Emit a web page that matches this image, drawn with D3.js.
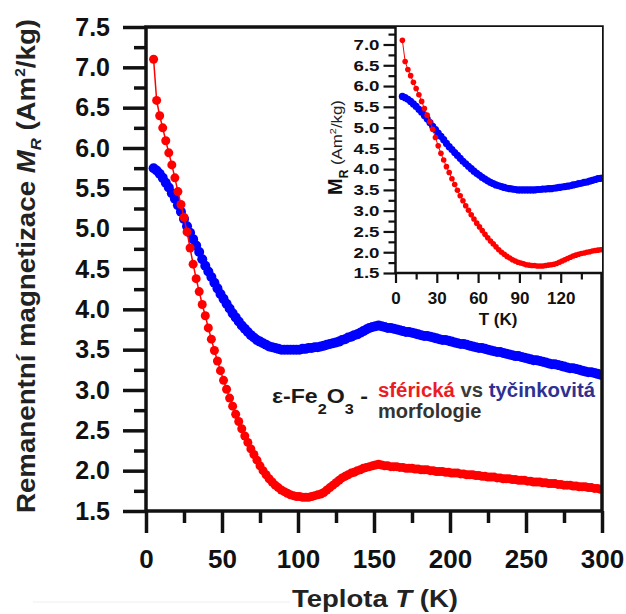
<!DOCTYPE html>
<html>
<head>
<meta charset="utf-8">
<script src="https://cdn.jsdelivr.net/npm/d3@7"></script>
<style>
  html, body { margin: 0; padding: 0; background: #fff; }
  svg { display: block; font-family: "Liberation Sans", Arial, sans-serif; }
</style>
</head>
<body>
<div id="chart"></div>
<script>
// ---------------- DATA ----------------
const temperatures = [
  5,7,9,11,13,15,17,19,21,23,
  25,27,29,31,33,35,37,39,41,43,
  45,47,49,51,53,55,57,59,61,63,
  65,67,69,71,73,75,77,79,81,83,
  85,87,89,91,93,95,97,99,101,103,
  105,107,109,111,113,115,117,119,121,123,
  125,127,129,131,133,135,137,139,141,143,
  145,147,149,151,153,155,157,159,161,163,
  165,167,169,171,173,175,177,179,181,183,
  185,187,189,191,193,195,197,199,201,203,
  205,207,209,211,213,215,217,219,221,223,
  225,227,229,231,233,235,237,239,241,243,
  245,247,249,251,253,255,257,259,261,263,
  265,267,269,271,273,275,277,279,281,283,
  285,287,289,291,293,295,297,299
];
// spherical morphology (red)
const magSpherical = [
  7.10,6.59,6.40,6.25,6.09,5.94,5.79,5.63,5.46,5.30,
  5.14,4.96,4.76,4.56,4.38,4.22,4.06,3.92,3.77,3.63,
  3.49,3.36,3.24,3.12,3.01,2.90,2.80,2.70,2.61,2.52,
  2.43,2.35,2.27,2.20,2.13,2.06,2.00,1.95,1.90,1.86,
  1.82,1.79,1.76,1.74,1.72,1.70,1.69,1.68,1.68,1.67,
  1.67,1.67,1.68,1.69,1.70,1.71,1.73,1.76,1.79,1.82,
  1.85,1.88,1.91,1.93,1.95,1.97,1.98,2.00,2.01,2.03,
  2.04,2.05,2.06,2.07,2.08,2.07,2.06,2.06,2.05,2.05,
  2.05,2.04,2.04,2.03,2.03,2.03,2.02,2.02,2.01,2.01,
  2.01,2.00,2.00,1.99,1.99,1.99,1.98,1.98,1.97,1.97,
  1.97,1.96,1.96,1.95,1.95,1.95,1.94,1.94,1.93,1.93,
  1.92,1.92,1.92,1.91,1.91,1.90,1.90,1.90,1.89,1.89,
  1.88,1.88,1.88,1.87,1.87,1.86,1.86,1.86,1.85,1.85,
  1.84,1.84,1.84,1.83,1.83,1.82,1.82,1.82,1.81,1.81,
  1.80,1.80,1.80,1.79,1.79,1.78,1.78,1.77
];
// rod-like morphology (blue)
const magRod = [
  5.75,5.72,5.68,5.63,5.57,5.51,5.44,5.37,5.29,5.21,
  5.12,5.03,4.95,4.87,4.79,4.71,4.62,4.54,4.47,4.40,
  4.33,4.26,4.19,4.13,4.07,4.01,3.95,3.90,3.85,3.80,
  3.76,3.72,3.68,3.65,3.62,3.60,3.58,3.56,3.54,3.53,
  3.52,3.51,3.50,3.50,3.50,3.50,3.50,3.50,3.50,3.51,
  3.51,3.52,3.52,3.53,3.53,3.54,3.55,3.56,3.57,3.58,
  3.59,3.60,3.62,3.63,3.65,3.66,3.68,3.69,3.71,3.73,
  3.75,3.77,3.78,3.79,3.80,3.79,3.78,3.77,3.77,3.76,
  3.75,3.74,3.73,3.72,3.72,3.71,3.70,3.69,3.68,3.67,
  3.67,3.66,3.65,3.64,3.63,3.62,3.62,3.61,3.60,3.59,
  3.58,3.57,3.57,3.56,3.55,3.54,3.53,3.52,3.52,3.51,
  3.50,3.49,3.48,3.47,3.47,3.46,3.45,3.44,3.43,3.42,
  3.42,3.41,3.40,3.39,3.38,3.37,3.37,3.36,3.35,3.34,
  3.33,3.32,3.32,3.31,3.30,3.29,3.28,3.27,3.27,3.26,
  3.25,3.24,3.23,3.22,3.22,3.21,3.20,3.19
];

const mainXTicks = [0,50,100,150,200,250,300];
const mainXMinor = [25,75,125,175,225,275];
const mainYTicks = [1.5,2.0,2.5,3.0,3.5,4.0,4.5,5.0,5.5,6.0,6.5,7.0,7.5];
const mainYMinor = [1.75,2.25,2.75,3.25,3.75,4.25,4.75,5.25,5.75,6.25,6.75,7.25];
const insetXTicks = [0,30,60,90,120];
const insetXMinor = [15,45,75,105,135];
const insetYTicks = [1.5,2.0,2.5,3.0,3.5,4.0,4.5,5.0,5.5,6.0,6.5,7.0];
const insetYMinor = [1.75,2.25,2.75,3.25,3.75,4.25,4.75,5.25,5.75,6.25,6.75,7.25];

const n = Math.min(temperatures.length, magSpherical.length, magRod.length);
const red = d3.range(n).map(i => ({t: temperatures[i], m: magSpherical[i]}));
const blue = d3.range(n).map(i => ({t: temperatures[i], m: magRod[i]}));

// ---------------- CHART ----------------
const W = 626, H = 614;
const svg = d3.select("#chart").append("svg").attr("width", W).attr("height", H);
const ink = "#111";

const x = d3.scaleLinear().domain([0, 300]).range([146, 602]);
const y = d3.scaleLinear().domain([1.5, 7.5]).range([511, 27]);

const defs = svg.append("defs");
defs.append("clipPath").attr("id", "clipMain").append("rect")
  .attr("x", x(0)).attr("y", y(7.5)).attr("width", x(300) - x(0)).attr("height", y(1.5) - y(7.5));

// faint artifact line
svg.append("line").attr("x1", 33).attr("x2", 290).attr("y1", 602).attr("y2", 602)
  .attr("stroke", "#efefef").attr("stroke-width", 1);

// main data
const gData = svg.append("g").attr("clip-path", "url(#clipMain)");
gData.selectAll("circle.b").data(blue).join("circle").attr("class", "b")
  .attr("cx", d => x(d.t)).attr("cy", d => y(d.m)).attr("r", 5).attr("fill", "#0000ff");
gData.append("path").datum(red)
  .attr("d", d3.line().x(d => x(d.t)).y(d => y(d.m)))
  .attr("fill", "none").attr("stroke", "#ff0000").attr("stroke-width", 1.5);
gData.selectAll("circle.r").data(red).join("circle").attr("class", "r")
  .attr("cx", d => x(d.t)).attr("cy", d => y(d.m)).attr("r", 4.5).attr("fill", "#ff0000");

// main axes
function styleAxis(g, sw, fs) {
  g.select(".domain").remove();
  g.selectAll(".tick line").attr("stroke", ink).attr("stroke-width", sw);
  g.selectAll(".tick text").attr("fill", ink).style("font-size", fs + "px").style("font-weight", "bold")
    .style("font-family", '"Liberation Sans", Arial, sans-serif');
}
const gy = svg.append("g").attr("transform", `translate(${x(0)},0)`)
  .call(d3.axisLeft(y).tickValues(mainYTicks).tickSize(23).tickPadding(13).tickFormat(d3.format(".1f")));
styleAxis(gy, 3.5, 25);
const gyMinor = svg.append("g").attr("transform", `translate(${x(0)},0)`)
  .call(d3.axisLeft(y).tickValues(mainYMinor).tickSize(12).tickFormat(""));
styleAxis(gyMinor, 3.5, 25);

const gx = svg.append("g").attr("transform", `translate(0,${y(1.5)})`)
  .call(d3.axisBottom(x).tickValues(mainXTicks).tickSize(22).tickFormat(d3.format("d")));
styleAxis(gx, 3.5, 26);
gx.selectAll(".tick text").attr("y", 57).attr("dy", 0);
const gxMinor = svg.append("g").attr("transform", `translate(0,${y(1.5)})`)
  .call(d3.axisBottom(x).tickValues(mainXMinor).tickSize(12).tickFormat(""));
styleAxis(gxMinor, 3.5, 26);

// main frame
svg.append("rect").attr("x", x(0)).attr("y", y(7.5))
  .attr("width", x(300) - x(0)).attr("height", y(1.5) - y(7.5))
  .attr("fill", "none").attr("stroke", ink).attr("stroke-width", 3.5);

// axis titles
const xTitle = svg.append("text").attr("x", 375).attr("y", 607).attr("text-anchor", "middle")
  .attr("fill", "#222").style("font-size", "23px").style("font-weight", "bold")
  .attr("textLength", 166).attr("lengthAdjust", "spacingAndGlyphs");
xTitle.append("tspan").text("Teplota ");
xTitle.append("tspan").style("font-style", "italic").text("T");
xTitle.append("tspan").text(" (K)");

const yTitle = svg.append("text").attr("transform", "translate(35,266) rotate(-90)")
  .attr("text-anchor", "middle").attr("fill", "#222").style("font-size", "25px").style("font-weight", "bold")
  .attr("textLength", 494).attr("lengthAdjust", "spacingAndGlyphs");
yTitle.append("tspan").text("Remanentní magnetizace ");
yTitle.append("tspan").style("font-style", "italic").text("M");
yTitle.append("tspan").style("font-style", "italic").style("font-size", "15px").attr("dy", 6).text("R");
yTitle.append("tspan").attr("dy", -6).text(" (Am");
yTitle.append("tspan").style("font-size", "14px").attr("dy", -10).text("2");
yTitle.append("tspan").attr("dy", 10).text("/kg)");

// annotation
const ann1 = svg.append("text").attr("x", 272).attr("y", 403).attr("fill", "#1a1a1a")
  .style("font-size", "20px").style("font-weight", "bold")
  .attr("textLength", 96).attr("lengthAdjust", "spacingAndGlyphs");
ann1.append("tspan").text("ε-Fe");
ann1.append("tspan").style("font-size", "14px").attr("dy", 11).text("2");
ann1.append("tspan").attr("dy", -11).text("O");
ann1.append("tspan").style("font-size", "14px").attr("dy", 11).text("3");
ann1.append("tspan").attr("dy", -11).text(" -");

const ann2 = svg.append("text").attr("x", 378).attr("y", 397)
  .style("font-size", "20px").style("font-weight", "bold")
  .attr("textLength", 217).attr("lengthAdjust", "spacingAndGlyphs");
ann2.append("tspan").attr("fill", "#ec1c24").text("sférická");
ann2.append("tspan").attr("fill", "#3a3a3a").text(" vs ");
ann2.append("tspan").attr("fill", "#2e3192").text("tyčinkovitá");
svg.append("text").attr("x", 378).attr("y", 418).attr("fill", "#333")
  .style("font-size", "20px").style("font-weight", "bold").text("morfologie");

// ---------------- INSET ----------------
const xi = d3.scaleLinear().domain([0, 150]).range([395.5, 602]);
const yi = d3.scaleLinear().domain([1.5, 7.0]).range([273, 44.5]);
const insetTop = y(7.5);

svg.append("rect").attr("x", xi(0)).attr("y", insetTop)
  .attr("width", xi(150) - xi(0)).attr("height", yi(1.5) - insetTop).attr("fill", "#fff");

defs.append("clipPath").attr("id", "clipInset").append("rect")
  .attr("x", xi(0)).attr("y", insetTop).attr("width", xi(150) - xi(0)).attr("height", yi(1.5) - insetTop);

const gi = svg.append("g").attr("clip-path", "url(#clipInset)");
const redI = red.filter(d => d.t <= 155), blueI = blue.filter(d => d.t <= 155);
gi.selectAll("circle.b").data(blueI).join("circle").attr("class", "b")
  .attr("cx", d => xi(d.t)).attr("cy", d => yi(d.m)).attr("r", 3.6).attr("fill", "#0000ff");
gi.append("path").datum(redI)
  .attr("d", d3.line().x(d => xi(d.t)).y(d => yi(d.m)))
  .attr("fill", "none").attr("stroke", "#ff0000").attr("stroke-width", 1);
gi.selectAll("circle.r").data(redI).join("circle").attr("class", "r")
  .attr("cx", d => xi(d.t)).attr("cy", d => yi(d.m)).attr("r", 2.8).attr("fill", "#ff0000");

const giy = svg.append("g").attr("transform", `translate(${xi(0)},0)`)
  .call(d3.axisLeft(yi).tickValues(insetYTicks).tickSize(12).tickPadding(4).tickFormat(d3.format(".1f")));
styleAxis(giy, 2.2, 15);
giy.selectAll(".tick text").attr("textLength", 26).attr("lengthAdjust", "spacingAndGlyphs");
const giyMinor = svg.append("g").attr("transform", `translate(${xi(0)},0)`)
  .call(d3.axisLeft(yi).tickValues(insetYMinor).tickSize(7).tickFormat(""));
styleAxis(giyMinor, 2.2, 15);

const gix = svg.append("g").attr("transform", `translate(0,${yi(1.5)})`)
  .call(d3.axisBottom(xi).tickValues(insetXTicks).tickSize(10).tickFormat(d3.format("d")));
styleAxis(gix, 2.2, 17);
gix.selectAll(".tick text").attr("y", 31).attr("dy", 0);
const gixMinor = svg.append("g").attr("transform", `translate(0,${yi(1.5)})`)
  .call(d3.axisBottom(xi).tickValues(insetXMinor).tickSize(6.5).tickFormat(""));
styleAxis(gixMinor, 2.2, 17);

svg.append("line").attr("x1", xi(0)).attr("x2", xi(0)).attr("y1", insetTop).attr("y2", yi(1.5))
  .attr("stroke", ink).attr("stroke-width", 2.5);
svg.append("line").attr("x1", xi(0) - 1).attr("x2", xi(150)).attr("y1", yi(1.5)).attr("y2", yi(1.5))
  .attr("stroke", ink).attr("stroke-width", 2.5);

// inset titles
svg.append("text").attr("x", 498).attr("y", 325).attr("text-anchor", "middle").attr("fill", ink)
  .style("font-size", "17px").style("font-weight", "bold").text("T (K)");

const iyt = svg.append("text").attr("transform", "translate(342,195) rotate(-90)").attr("fill", ink)
  .style("font-weight", "bold");
iyt.append("tspan").style("font-size", "20px").text("M");
iyt.append("tspan").style("font-size", "12px").attr("dy", 6).text("R");
svg.append("text").attr("transform", "translate(342,165) rotate(-90)").attr("fill", "#222")
  .style("font-size", "14px")
  .attr("textLength", 65).attr("lengthAdjust", "spacingAndGlyphs")
  .call(t => {
    t.append("tspan").text("(Am");
    t.append("tspan").style("font-size", "9px").attr("dy", -6).text("2");
    t.append("tspan").attr("dy", 6).text("/kg)");
  });
</script>
</body>
</html>
